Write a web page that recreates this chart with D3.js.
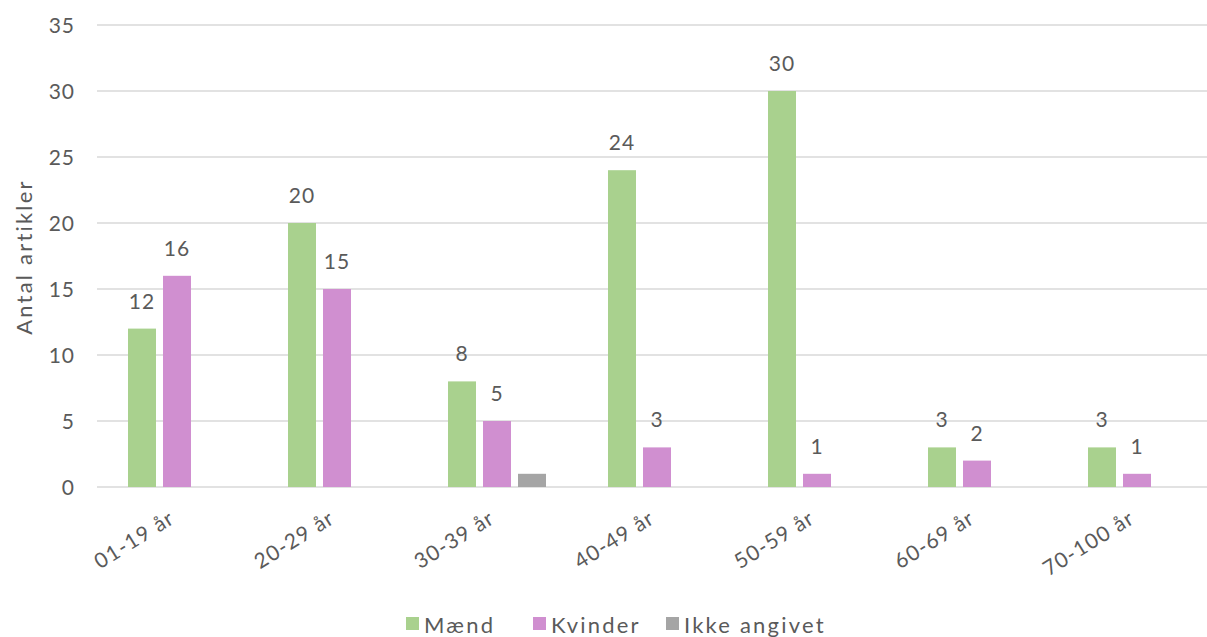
<!DOCTYPE html>
<html><head><meta charset="utf-8">
<script src="https://cdn.jsdelivr.net/npm/d3@7"></script>
<style>body{margin:0;background:#fff}svg{display:block}text{font-family:"Lato","Open Sans",sans-serif;fill:#5a5a5a;letter-spacing:2.2px}</style>
</head><body><svg id="c" width="1207" height="637"></svg>
<script>
const categories = ["01-19 år","20-29 år","30-39 år","40-49 år","50-59 år","60-69 år","70-100 år"];
const seriesNames = ["Mænd","Kvinder","Ikke angivet"];
const maend = [12,20,8,24,30,3,3];
const kvinder = [16,15,5,3,1,2,1];
const ikkeAngivet = [0,0,1,0,0,0,0];
const yTicks = [0,5,10,15,20,25,30,35];
const colors = ["#a9d18e","#d08fd0","#a5a5a5"];
const values = [maend,kvinder,ikkeAngivet];

const svg = d3.select("#c");
const left = 97, groupW = 160;
const x0 = d3.scaleBand().domain(categories).range([left, left + groupW*categories.length]);
const x1 = d3.scaleBand().domain(seriesNames).range([0, x0.bandwidth()]).paddingInner(0.2).paddingOuter(0.886);
const y = d3.scaleLinear().domain([0,35]).range([487,25]);

svg.append("g").selectAll("line").data(yTicks).join("line")
  .attr("x1", left).attr("x2", 1207)
  .attr("y1", d=>y(d)).attr("y2", d=>y(d))
  .attr("stroke","#d9d9d9").attr("stroke-width",1.5);

svg.append("g").selectAll("text").data(yTicks).join("text")
  .attr("x", 75).attr("y", d=>y(d)).attr("dy","0.36em")
  .attr("text-anchor","end").attr("font-size",21).style("letter-spacing","1px").text(d=>d);

svg.append("text").attr("transform","translate(32,257) rotate(-90)")
  .attr("text-anchor","middle").attr("font-size",22).text("Antal artikler");

seriesNames.forEach((s,si)=>{
  const g = svg.append("g");
  g.selectAll("rect").data(categories.map((c,i)=>({c,v:values[si][i]})).filter(d=>d.v>0)).join("rect")
    .attr("x", d=>x0(d.c)+x1(s)).attr("width", x1.bandwidth())
    .attr("y", d=>y(d.v)).attr("height", d=>y(0)-y(d.v))
    .attr("fill", colors[si]);
  if (si < 2) {
    g.selectAll("text").data(categories.map((c,i)=>({c,v:values[si][i]}))).join("text")
      .attr("x", d=>x0(d.c)+x1(s)+x1.bandwidth()/2)
      .attr("y", d=>y(d.v)-20)
      .attr("text-anchor","middle").attr("font-size",21).style("letter-spacing","1px").text(d=>d.v);
  }
});

svg.append("g").selectAll("text").data(categories).join("text")
  .attr("transform", d=>`translate(${x0(d)+x0.bandwidth()/2-1},${522}) rotate(-32)`)
  .attr("text-anchor","end").attr("font-size",21).style("letter-spacing","1.2px").text(d=>d);

const legX = [406,533,666];
seriesNames.forEach((s,i)=>{
  svg.append("rect").attr("x",legX[i]).attr("y",617).attr("width",13).attr("height",13).attr("fill",colors[i]);
  svg.append("text").attr("x",legX[i]+18).attr("y",633).attr("font-size",22).text(s);
});
</script></body></html>
